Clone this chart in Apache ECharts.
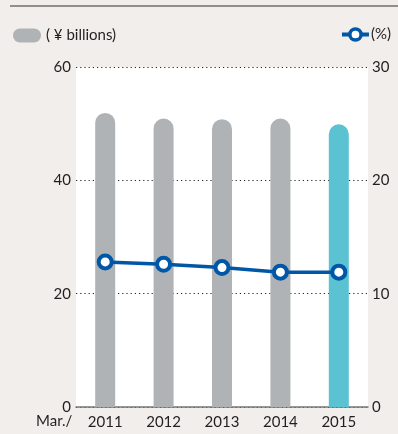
<!DOCTYPE html>
<html>
<head>
<meta charset="utf-8">
<script src="https://cdn.jsdelivr.net/npm/echarts@6/dist/echarts.min.js"></script>
<style>
  html, body { margin: 0; padding: 0; background: #f2eeeb; }
  #chart { width: 398px; height: 434px; }
</style>
</head>
<body>
<div id="chart"></div>
<script>
// Fiscal years ending in March
const years = ['2011', '2012', '2013', '2014', '2015'];
// Amount, ¥ billions (left axis)
const amounts = [51.9, 50.9, 50.8, 50.9, 49.9];
// Ratio, % (right axis)
const ratios = [12.8, 12.6, 12.3, 11.9, 11.9];
const leftTicks = { min: 0, max: 60, interval: 20 };
const rightTicks = { min: 0, max: 30, interval: 10 };

const FONT = 'Lato, "Noto Sans", sans-serif';
const FS = 15;
const TEXT = '#231f20';
const GRAY = '#b0b3b5';
const CYAN = '#5bc2d2';
const BLUE = '#0057a8';
// Pill-shaped legend swatch
const PILL = 'path://M7,0 H21 A7,7 0 0 1 21,14 H7 A7,7 0 0 1 7,0 Z';

const chart = echarts.init(document.getElementById('chart'), null, { renderer: 'canvas' });

chart.setOption({
  backgroundColor: '#f2eeeb',
  animation: false,
  textStyle: { fontFamily: FONT, color: TEXT },
  grid: {
    left: 76, right: 30, top: 67, bottom: 27,
    show: true, backgroundColor: '#ffffff', borderWidth: 0
  },
  legend: [
    {
      data: ['( ¥ billions)'],
      left: 8, top: 23,
      icon: PILL,
      itemWidth: 28, itemHeight: 14, itemGap: 6,
      textStyle: { fontFamily: FONT, fontSize: FS, color: TEXT }
    },
    {
      data: ['(%)'],
      right: 2, top: 22,
      itemWidth: 27, itemHeight: 14, itemGap: 2,
      itemStyle: { borderWidth: 3.5 },
      lineStyle: { width: 4 },
      textStyle: { fontFamily: FONT, fontSize: FS, color: TEXT, padding: [0, 0, 0, -3] }
    }
  ],
  xAxis: {
    type: 'category',
    data: years,
    axisTick: { show: false },
    axisLine: { show: true, lineStyle: { color: '#777777', width: 1.5 } },
    axisLabel: { fontFamily: FONT, fontSize: FS, color: TEXT, margin: 8 }
  },
  yAxis: [
    {
      type: 'value',
      min: leftTicks.min, max: leftTicks.max, interval: leftTicks.interval,
      axisLine: { show: false },
      axisTick: { show: false },
      axisLabel: { fontFamily: FONT, fontSize: FS, color: TEXT, margin: 5 },
      splitLine: {
        show: true,
        lineStyle: { color: '#222222', width: 1.2, type: [1.2, 3] }
      }
    },
    {
      type: 'value',
      min: rightTicks.min, max: rightTicks.max, interval: rightTicks.interval,
      axisLine: { show: false },
      axisTick: { show: false },
      axisLabel: { fontFamily: FONT, fontSize: FS, color: TEXT, margin: 4 },
      splitLine: { show: false }
    }
  ],
  series: [
    {
      name: '( ¥ billions)',
      type: 'bar',
      yAxisIndex: 0,
      barWidth: 20,
      itemStyle: { color: GRAY, borderRadius: [10, 10, 0, 0] },
      data: amounts.map((v, i) => i === amounts.length - 1
        ? { value: v, itemStyle: { color: CYAN } }
        : v),
      z: 3
    },
    {
      name: '(%)',
      type: 'line',
      yAxisIndex: 1,
      data: ratios,
      symbol: 'circle',
      symbolSize: 13,
      lineStyle: { color: BLUE, width: 3.5 },
      itemStyle: { color: '#ffffff', borderColor: BLUE, borderWidth: 4 },
      z: 5
    }
  ],
  graphic: [
    {
      type: 'line',
      shape: { x1: 10, y1: 6, x2: 398, y2: 6 },
      style: { stroke: '#6f6f6f', lineWidth: 1.5 }
    },
    {
      type: 'text',
      left: 36, top: 414,
      style: { text: 'Mar./', fontFamily: FONT, fontSize: FS, fill: TEXT }
    }
  ]
});
</script>
</body>
</html>
